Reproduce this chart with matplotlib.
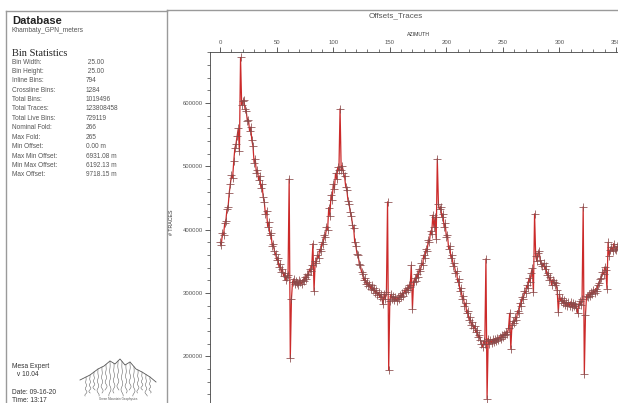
import numpy as np
import matplotlib
matplotlib.use('Agg')
import matplotlib.pyplot as plt
from matplotlib.ticker import MultipleLocator, FuncFormatter

# trace counts per 1 degree azimuth bin, in thousands
traces_k = [
    380, 376, 395, 392, 410, 414, 432, 436, 458, 472,
    486, 482, 508, 529, 536, 548, 560, 524, 672, 597,
    603, 605, 590, 588, 572, 574, 556, 562, 541, 532,
    506, 512, 490, 494, 478, 485, 466, 472, 452, 444,
    424, 430, 405, 412, 391, 394, 374, 378, 366, 362,
    352, 356, 341, 346, 333, 338, 327, 331, 320, 326,
    328, 480, 197, 290, 318, 322, 314, 319, 316, 313,
    320, 317, 315, 321, 319, 326, 322, 330, 328, 338,
    334, 344, 378, 303, 350, 348, 360, 356, 369, 366,
    380, 377, 392, 388, 405, 400, 435, 422, 455, 447,
    472, 465, 489, 480, 499, 494, 591, 494, 501, 490,
    484, 468, 463, 446, 441, 428, 422, 408, 403, 380,
    374, 362, 360, 346, 344, 333, 330, 320, 323, 314,
    318, 311, 315, 307, 312, 304, 308, 300, 304, 297,
    301, 293, 298, 291, 282, 299, 290, 302, 444, 178,
    288, 298, 291, 295, 289, 293, 288, 294, 290, 297,
    293, 300, 296, 305, 301, 308, 304, 313, 310, 344,
    275, 318, 323, 319, 330, 325, 338, 334, 347, 344,
    360, 356, 370, 366, 384, 380, 398, 393, 423, 404,
    420, 386, 512, 440, 432, 436, 420, 425, 404, 410,
    388, 392, 370, 374, 356, 360, 343, 347, 331, 334,
    318, 322, 303, 308, 291, 296, 280, 284, 268, 272,
    258, 262, 250, 254, 244, 248, 238, 241, 230, 233,
    226, 220, 215, 224, 220, 354, 133, 228, 220, 226,
    221, 227, 222, 228, 224, 229, 226, 231, 228, 233,
    231, 236, 233, 239, 236, 245, 268, 212, 250, 255,
    253, 262, 258, 272, 268, 284, 280, 294, 290, 303,
    300, 312, 308, 323, 318, 332, 339, 301, 425, 358,
    350, 363, 366, 352, 346, 342, 347, 338, 342, 328,
    332, 320, 325, 313, 321, 318, 312, 316, 304, 270,
    298, 288, 292, 284, 289, 281, 286, 279, 285, 280,
    286, 278, 284, 279, 283, 277, 268, 282, 287, 281,
    291, 436, 172, 265, 296, 293, 299, 295, 302, 298,
    304, 300, 307, 303, 313, 316, 322, 324, 333, 330,
    341, 336, 307, 380, 359, 368, 373, 366, 378, 370,
    368, 374, 370, 377, 372, 379, 375, 381, 377, 382,
]
azimuth = np.arange(len(traces_k))
traces = np.array(traces_k) * 1000

stat_labels = ['Bin Width:', 'Bin Height:', 'Inline Bins:', 'Crossline Bins:',
               'Total Bins:', 'Total Traces:', 'Total Live Bins:', 'Nominal Fold:',
               'Max Fold:', 'Min Offset:', 'Max Min Offset:', 'Min Max Offset:',
               'Max Offset:']
stat_values = [' 25.00', ' 25.00', '794', '1284', '1019496', '123808458', '729119',
               '266', '265', '0.00 m', '6931.08 m', '6192.13 m', '9718.15 m']

W, H = 618, 403
def px(x, y):
    return x / W, 1 - y / H

fig = plt.figure(figsize=(W / 100, H / 100), dpi=100)
fig.patch.set_facecolor('white')
grey = '#555555'
sans = 'Liberation Sans'

# frame lines of the report page
fig.add_artist(plt.Line2D([6 / W, 6 / W], [0, 1 - 11 / H], color='#9a9a9a', lw=1))
fig.add_artist(plt.Line2D([6 / W, 167 / W], [1 - 11 / H, 1 - 11 / H], color='#9a9a9a', lw=1))
fig.add_artist(plt.Line2D([167 / W, 167 / W], [0, 1 - 10 / H], color='#9a9a9a', lw=1))
fig.add_artist(plt.Line2D([167 / W, 1], [1 - 10 / H, 1 - 10 / H], color='#9a9a9a', lw=1))

# left info panel
fig.text(*px(12, 21), 'Database', fontsize=8, fontweight='bold', family=sans,
         color='#222222', va='center')
fig.text(*px(12, 31), 'Khambaty_GPN_meters', fontsize=4.8, family=sans, color=grey, va='center')
fig.text(*px(12, 53), 'Bin Statistics', fontsize=7.5, family='Liberation Serif',
         color='#222222', va='center')
for i, (lab, val) in enumerate(zip(stat_labels, stat_values)):
    y = 62 + i * 9.4
    fig.text(*px(12, y), lab, fontsize=4.7, family=sans, color=grey, va='center')
    fig.text(*px(86, y), val, fontsize=4.7, family=sans, color=grey, va='center')

fig.text(*px(12, 366), 'Mesa Expert', fontsize=4.8, family=sans, color='#333333', va='center')
fig.text(*px(15, 374), ' v 10.04', fontsize=4.8, family=sans, color='#333333', va='center')
fig.text(*px(12, 392), 'Date: 09-16-20', fontsize=4.8, family=sans, color='#333333', va='center')
fig.text(*px(12, 400), 'Time: 13:17', fontsize=4.8, family=sans, color='#333333', va='center')

# small logo (mountain with hanging traces)
logo = fig.add_axes([78 / W, 1 - 402 / H, 80 / W, 48 / H])
logo.axis('off')
logo.set_xlim(0, 80)
logo.set_ylim(0, 48)
ridge_x = [2, 12, 20, 26, 32, 37, 42, 47, 52, 58, 64, 72, 78]
ridge_y = [22, 27, 33, 36, 41, 38, 43, 37, 40, 33, 30, 25, 20]
logo.plot(ridge_x, ridge_y, color='#555555', lw=0.6)
tt = np.linspace(0, 1, 40)
for k, x0 in enumerate(range(8, 76, 4)):
    top = np.interp(x0, ridge_x, ridge_y)
    ys = top - tt * (top - 6 - (k % 3) * 3)
    logo.plot(x0 + 1.2 * np.sin(tt * 18 + k) * tt, ys, color='#666666', lw=0.4)
logo.text(40, 1, 'Green Mountain Geophysics', fontsize=2.2, ha='center', va='bottom',
          color='#555555', family=sans)

# chart title
fig.text(*px(396, 16), 'Offsets_Traces', fontsize=5.8, family=sans, color=grey,
         ha='center', va='center')

# main plot, running past the right and bottom edges like the screenshot
y_top, y_bot = 52.4, 419.0
x_left, x_right = 210.0, 627.3
ax = fig.add_axes([x_left / W, 1 - y_bot / H, (x_right - x_left) / W, (y_bot - y_top) / H])
ax.plot(azimuth, traces, color='#cc2a2a', lw=0.9, marker='+', ms=5.5, mew=0.55,
        mec='#8a4a4a', zorder=3)
ax.set_xlim(-9, 360)
ax.set_ylim(101000, 680000)

ax.xaxis.tick_top()
ax.xaxis.set_label_position('top')
ax.xaxis.set_major_locator(MultipleLocator(50))
ax.xaxis.set_minor_locator(MultipleLocator(10))
ax.yaxis.set_major_locator(MultipleLocator(100000))
ax.yaxis.set_minor_locator(MultipleLocator(20000))
ax.yaxis.set_major_formatter(FuncFormatter(lambda v, p: '%d' % v))
ax.tick_params(which='major', direction='out', length=3.5, width=0.6, colors='#444444',
               labelsize=4.3, labelcolor=grey, pad=1.5)
ax.tick_params(which='minor', direction='out', length=2, width=0.5, colors='#444444')
for s in ['right', 'bottom']:
    ax.spines[s].set_visible(False)
for s in ['left', 'top']:
    ax.spines[s].set_linewidth(0.6)
    ax.spines[s].set_color('#444444')
for lab in ax.get_xticklabels() + ax.get_yticklabels():
    lab.set_family(sans)

ax.set_xlabel('AZIMUTH', fontsize=3.8, color='#333333', family=sans, labelpad=3)
ax.set_ylabel('# TRACES', fontsize=3.8, color='#333333', family=sans, labelpad=5)
ax.yaxis.set_label_coords(-0.086, 1 - (222 - y_top) / (y_bot - y_top))

fig.savefig('out.png', dpi=100)
